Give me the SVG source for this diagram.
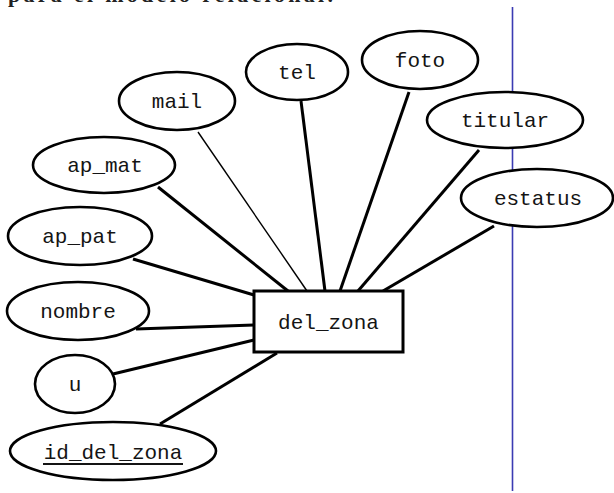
<svg xmlns="http://www.w3.org/2000/svg" width="614" height="493" viewBox="0 0 614 493">
  <style>
    .attr { fill: #ffffff; stroke: #000000; stroke-width: 2.6; }
    .ent { fill: #ffffff; stroke: #000000; stroke-width: 3; }
    .lbl { font-family: "Liberation Mono", "Courier New", monospace; font-size: 21px; fill: #141414; text-anchor: middle; }
    .link { stroke: #000000; stroke-width: 3; fill: none; }
    .thin { stroke-width: 1.4; }
  </style>
  <rect x="0" y="0" width="614" height="493" fill="#ffffff"/>

  <!-- running paragraph text above the figure -->
  <text x="8" y="2" font-family="'Liberation Serif', 'Times New Roman', serif" font-size="22" font-weight="bold" fill="#222222" textLength="325">para el modelo relacional.</text>

  <!-- page margin rule -->
  <line x1="512.5" y1="7" x2="512.5" y2="491" stroke="#3b3bb3" stroke-width="1.6"/>

  <!-- connectors -->
  <g id="connectors">
    <line class="link" x1="158" y1="187" x2="288" y2="291"/>
    <line class="link thin" x1="198" y1="132" x2="307" y2="291"/>
    <line class="link" x1="301" y1="101" x2="325" y2="291"/>
    <line class="link" x1="409" y1="92" x2="340" y2="291"/>
    <line class="link" x1="479" y1="150" x2="358" y2="291"/>
    <line class="link" x1="494" y1="226" x2="383" y2="291"/>
    <line class="link" x1="133" y1="259" x2="254" y2="295"/>
    <line class="link" x1="136" y1="329" x2="254" y2="325"/>
    <line class="link" x1="113" y1="374" x2="254" y2="340"/>
    <line class="link" x1="160" y1="424" x2="277" y2="353"/>
  </g>

  <g id="mail">
    <ellipse class="attr" cx="177" cy="101" rx="58" ry="29"/>
    <text class="lbl" x="177" y="108">mail</text>
  </g>
  <g id="tel">
    <ellipse class="attr" cx="297" cy="72" rx="51" ry="28"/>
    <text class="lbl" x="297" y="79">tel</text>
  </g>
  <g id="foto">
    <ellipse class="attr" cx="420" cy="60" rx="58" ry="29"/>
    <text class="lbl" x="420" y="67">foto</text>
  </g>
  <g id="titular">
    <ellipse class="attr" cx="505" cy="120" rx="78" ry="28"/>
    <text class="lbl" x="505" y="127">titular</text>
  </g>
  <g id="estatus">
    <ellipse class="attr" cx="537" cy="198" rx="76" ry="29"/>
    <text class="lbl" x="538" y="205">estatus</text>
  </g>
  <g id="ap_mat">
    <ellipse class="attr" cx="104" cy="165" rx="71" ry="28"/>
    <text class="lbl" x="105" y="172">ap_mat</text>
  </g>
  <g id="ap_pat">
    <ellipse class="attr" cx="80" cy="236" rx="72" ry="29"/>
    <text class="lbl" x="80" y="243">ap_pat</text>
  </g>
  <g id="nombre">
    <ellipse class="attr" cx="78" cy="311" rx="71" ry="29"/>
    <text class="lbl" x="78" y="318">nombre</text>
  </g>
  <g id="u">
    <ellipse class="attr" cx="75" cy="384" rx="40" ry="29"/>
    <text class="lbl" x="75" y="391">u</text>
  </g>
  <g id="id_del_zona">
    <ellipse class="attr" cx="113" cy="451" rx="103" ry="29"/>
    <text class="lbl" x="113" y="459">id_del_zona</text>
    <line x1="43" y1="464" x2="183" y2="464" stroke="#141414" stroke-width="2"/>
  </g>
  <g id="del_zona">
    <rect class="ent" x="254" y="291" width="149" height="61"/>
    <text class="lbl" x="328.5" y="329">del_zona</text>
  </g>
</svg>
